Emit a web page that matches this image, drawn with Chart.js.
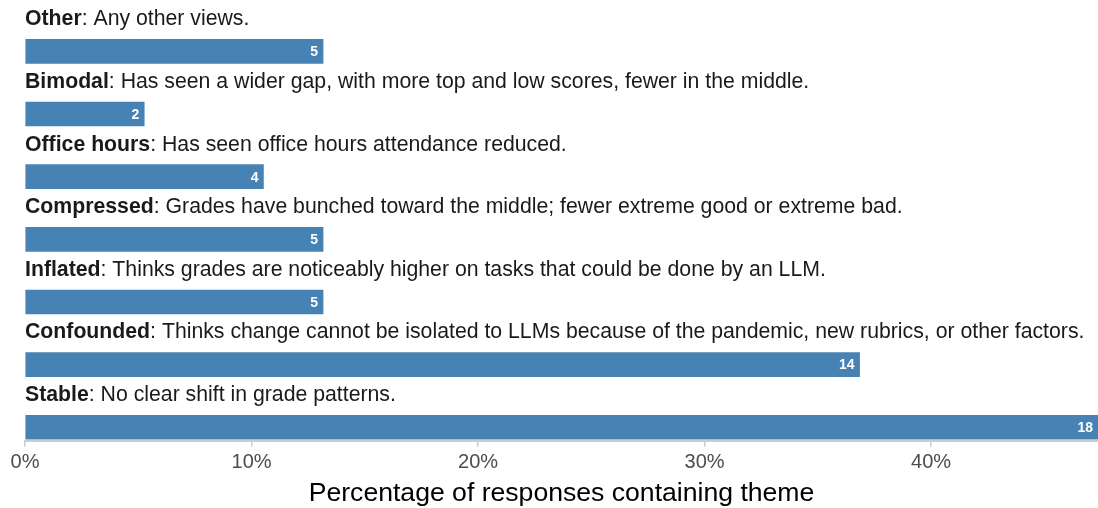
<!DOCTYPE html>
<html>
<head>
<meta charset="utf-8">
<script src="https://cdn.jsdelivr.net/npm/chart.js@4/dist/chart.umd.min.js"></script>
<style>
  html, body { margin: 0; padding: 0; background: #fff; }
  #wrap { width: 1098px; height: 508px; }
</style>
</head>
<body>
<div id="wrap"><canvas id="myChart"></canvas></div>
<script>
// themes, top to bottom
var themes = ['Other', 'Bimodal', 'Office hours', 'Compressed', 'Inflated', 'Confounded', 'Stable'];
var descriptions = [
    'Any other views.',
    'Has seen a wider gap, with more top and low scores, fewer in the middle.',
    'Has seen office hours attendance reduced.',
    'Grades have bunched toward the middle; fewer extreme good or extreme bad.',
    'Thinks grades are noticeably higher on tasks that could be done by an LLM.',
    'Thinks change cannot be isolated to LLMs because of the pandemic, new rubrics, or other factors.',
    'No clear shift in grade patterns.'
];
var counts = [5, 2, 4, 5, 5, 14, 18];
var totalResponses = 38;
var xTicks = [0, 10, 20, 30, 40];

var FONT = '"Liberation Sans", Arial, sans-serif';

var points = counts.map(function(c, i) {
    return { x: c / totalResponses * 100, y: i };
});
var maxPct = Math.max.apply(null, counts) / totalResponses * 100;

// theme name + description above each bar, count inside the bar end
const labelPlugin = {
    id: 'themeLabels',
    afterDatasetsDraw(chart) {
        const ctx = chart.ctx;
        const meta = chart.getDatasetMeta(0);
        const left = chart.chartArea.left;
        ctx.save();
        meta.data.forEach(function(bar, i) {
            var ty = bar.y - 32;
            ctx.textBaseline = 'middle';
            ctx.textAlign = 'left';
            ctx.fillStyle = '#1a1a1a';
            ctx.font = 'bold 21.25px ' + FONT;
            ctx.fillText(themes[i], left, ty);
            var w = ctx.measureText(themes[i]).width;
            ctx.font = '21.25px ' + FONT;
            ctx.fillText(': ' + descriptions[i], left + w, ty);

            ctx.textAlign = 'right';
            ctx.fillStyle = '#ffffff';
            ctx.font = 'bold 14px ' + FONT;
            ctx.fillText(counts[i], bar.x - 5, bar.y + 1);
        });
        ctx.restore();
    }
};

const ctx = document.getElementById('myChart').getContext('2d');
const myChart = new Chart(ctx, {
    type: 'bar',
    data: {
        datasets: [{
            data: points,
            backgroundColor: '#4682B4',
            barThickness: 24,
            clip: false
        }]
    },
    options: {
        indexAxis: 'y',
        responsive: true,
        maintainAspectRatio: false,
        animation: false,
        layout: { padding: { left: 25, right: 0, top: 20, bottom: 0 } },
        plugins: {
            legend: { display: false },
            tooltip: { enabled: false }
        },
        scales: {
            y: {
                type: 'linear',
                reverse: true,
                offset: false,
                min: -0.5,
                max: 6.215,
                display: false
            },
            x: {
                type: 'linear',
                min: 0,
                max: maxPct,
                position: 'bottom',
                afterBuildTicks: function(scale) {
                    scale.ticks = xTicks.map(function(v) { return { value: v }; });
                },
                ticks: {
                    callback: function(v) { return v + '%'; },
                    color: '#4d4d4d',
                    font: { family: FONT, size: 20 },
                    padding: 4,
                    maxRotation: 0
                },
                grid: {
                    drawOnChartArea: false,
                    drawTicks: true,
                    tickLength: 6,
                    color: '#cccccc',
                    lineWidth: 1.5
                },
                border: { display: true, color: '#cccccc', width: 2 },
                title: {
                    display: true,
                    text: 'Percentage of responses containing theme',
                    color: '#000000',
                    font: { family: FONT, size: 26.6, lineHeight: 1.1 },
                    padding: { top: 0, bottom: 0 }
                }
            }
        }
    },
    plugins: [labelPlugin]
});
</script>
</body>
</html>
